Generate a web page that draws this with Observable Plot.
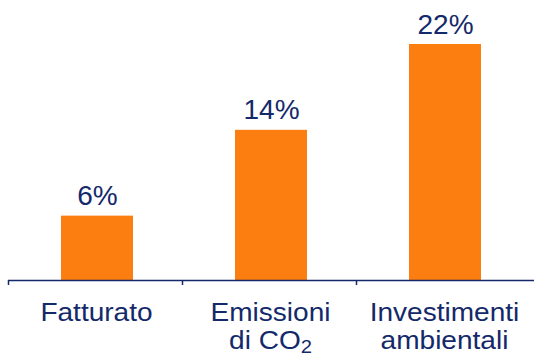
<!DOCTYPE html>
<html>
<head>
<meta charset="utf-8">
<script src="https://cdn.jsdelivr.net/npm/d3@7"></script>
<script src="https://cdn.jsdelivr.net/npm/@observablehq/plot@0.6"></script>
<style>
  html, body { margin: 0; padding: 0; background: #fff; }
  #chart svg { display: block; }
</style>
</head>
<body>
<div id="chart"></div>
<script>
// Category names (two-line labels) and growth percentages
const categories = ["Fatturato", "Emissioni\ndi CO2", "Investimenti\nambientali"];
const values = [6, 14, 22];
const valueLabels = ["6%", "14%", "22%"];

const orange = "#fc7d10";
const navy = "#14296a";

const rows = categories.map((c, i) => ({i, category: c, value: values[i], label: valueLabels[i]}));

const chart = Plot.plot({
  width: 534,
  height: 353,
  marginTop: 44,
  marginBottom: 73,
  marginLeft: 8,
  marginRight: 4,
  style: {fontFamily: "'Liberation Sans', Arial, sans-serif", background: "#fff"},
  x: {domain: [0, categories.length], axis: null},
  y: {domain: [0, 22], axis: null},
  marks: [
    Plot.rectY(rows, {x1: "i", x2: d => d.i + 1, y: "value", fill: orange, insetLeft: 51, insetRight: 51, dx: 2}),
    Plot.ruleY([0], {stroke: navy, strokeWidth: 1.5, insetRight: -4}),
    Plot.ruleX(rows, {x: "i", y1: 0, y2: 0, insetBottom: -5, stroke: navy, strokeWidth: 1.5}),
    Plot.text(rows, {
      x: d => d.i + 0.5, y: "value", text: "label",
      lineAnchor: "bottom", dy: -11, dx: 2, fontSize: 28, fill: navy
    }),
    Plot.text(rows, {
      x: d => d.i + 0.5, y: 0, text: "category",
      lineAnchor: "top", dy: 21, dx: 1, fontSize: 25.5, lineHeight: 1.09, fill: navy,
      className: "cat-label"
    })
  ]
});

// Category labels are set slightly wide
d3.select(chart).selectAll(".cat-label text").each(function() {
  const tr = this.getAttribute("transform") || "";
  this.setAttribute("transform", tr + " scale(1.1,1)");
});

// Render the "2" of CO2 as a subscript
d3.select(chart).selectAll(".cat-label tspan").each(function() {
  const t = this.textContent;
  if (t.endsWith("CO2")) {
    this.textContent = t.slice(0, -1);
    d3.select(this).append("tspan")
      .attr("font-size", "72%")
      .attr("dy", "0.22em")
      .text("2");
  }
});

document.getElementById("chart").appendChild(chart);
</script>
</body>
</html>
